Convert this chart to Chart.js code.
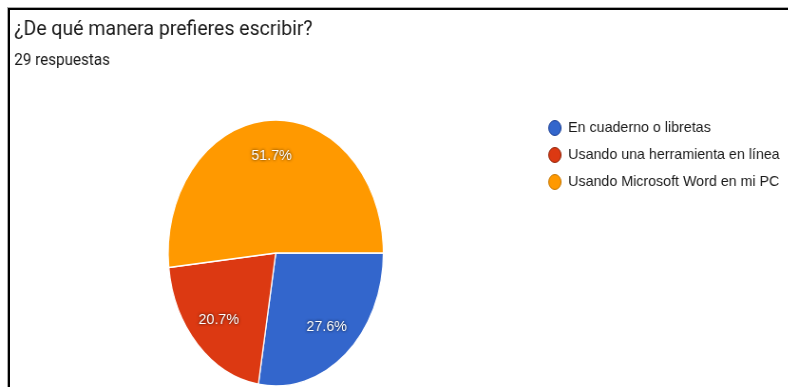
<!DOCTYPE html>
<html>
<head>
<meta charset="utf-8">
<script src="https://cdn.jsdelivr.net/npm/chart.js@4.4.1/dist/chart.umd.min.js"></script>
<style>
	html, body { margin: 0; padding: 0; background: #fff; width: 788px; height: 387px; overflow: hidden; }
	#frame { position: absolute; left: 8px; top: 8px; width: 800px; height: 400px; border-top: 2px solid #000; border-left: 2px solid #000; box-shadow: -1px -1px 0 #aaa; z-index: 2; }
	#wrap { position: absolute; left: 0; top: 0; width: 850px; height: 400px; transform: scaleX(0.95); transform-origin: 0 0; }
</style>
</head>
<body>
<div id="frame"></div>
<div id="wrap"><canvas id="answers-pie" width="850" height="400"></canvas></div>
<script>
const question = "¿De qué manera prefieres escribir?"
const totalAnswers = 29
const answers = ["En cuaderno o libretas", "Usando una herramienta en línea", "Usando Microsoft Word en mi PC"]
const counts = [8, 6, 15]
const sliceColors = ["#3366cc", "#dc3912", "#ff9900"]
const edgeColors = ["#1c3f94", "#8e230a", "#c47600"]

// the picture is squeezed sideways, so the pie is an oval
const squeeze = 0.852

const ovalPie = {
	id: "ovalPie",
	beforeDatasetsDraw(chart) {
		const arc = chart.getDatasetMeta(0).data[0]
		const ctx = chart.ctx
		ctx.save()
		ctx.translate(arc.x, 0)
		ctx.scale(squeeze, 1)
		ctx.translate(-arc.x, 0)
	},
	afterDatasetsDraw(chart) {
		const ctx = chart.ctx
		ctx.restore()
		const total = counts.reduce((a, b) => a + b, 0)
		ctx.save()
		ctx.font = "15px 'Liberation Sans', Arial, sans-serif"
		ctx.fillStyle = "#fff"
		ctx.textAlign = "center"
		ctx.textBaseline = "middle"
		ctx.shadowColor = "rgba(0, 0, 0, 0.85)"
		ctx.shadowBlur = 3
		chart.getDatasetMeta(0).data.forEach((arc, i) => {
			const mid = (arc.startAngle + arc.endAngle) / 2
			const r = arc.outerRadius * 0.73
			ctx.fillText((counts[i] / total * 100).toFixed(1) + "%", arc.x + Math.cos(mid) * r * squeeze, arc.y + Math.sin(mid) * r)
		})
		ctx.restore()
	}
}

new Chart(document.getElementById("answers-pie").getContext("2d"), {
	type: "pie",
	data: {
		labels: answers,
		datasets: [
			{
				data: counts,
				backgroundColor: sliceColors,
				borderColor: "#ffffff",
				borderWidth: 1.5
			}
		]
	},
	options: {
		responsive: false,
		animation: false,
		rotation: 90,
		radius: 133,
		layout: {
			padding: { left: 15, right: 19.3, top: 0, bottom: 2.5 }
		},
		plugins: {
			title: {
				display: true,
				text: question,
				align: "start",
				color: "#1a1a1a",
				font: { family: "Roboto", size: 20.5, weight: "normal", lineHeight: 1.2 },
				padding: { top: 17.2, bottom: 0 }
			},
			subtitle: {
				display: true,
				text: totalAnswers + " respuestas",
				align: "start",
				color: "#1a1a1a",
				font: { family: "Roboto", size: 16, weight: "normal", lineHeight: 1.2 },
				padding: { top: 9.6, bottom: 37.9 }
			},
			legend: {
				position: "right",
				align: "start",
				fullSize: false,
				labels: {
					color: "#1a1a1a",
					font: { family: "'Liberation Sans', Arial, sans-serif", size: 15 },
					padding: 12,
					usePointStyle: true,
					pointStyle: "circle",
					boxHeight: 10.6,
					pointStyleWidth: 13,
					generateLabels(chart) {
						const items = Chart.overrides.doughnut.plugins.legend.labels.generateLabels(chart)
						items.forEach((item, i) => {
							item.strokeStyle = edgeColors[i]
							item.lineWidth = 1
						})
						return items
					}
				}
			},
			tooltip: { enabled: false }
		}
	},
	plugins: [ovalPie]
})
</script>
</body>
</html>
